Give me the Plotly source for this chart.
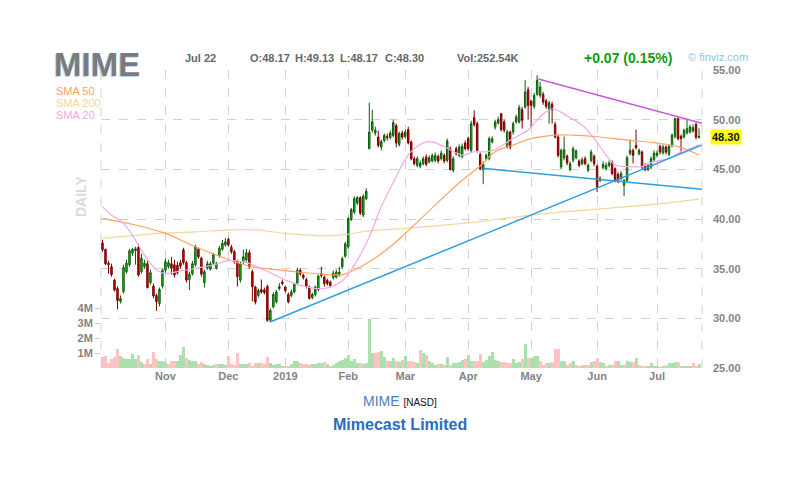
import plotly.graph_objects as go

# MIME daily candles, 3 Oct 2018 .. 22 Jul 2019 (index 0..199)
opens = [37.6, 36.95, 35.55, 35.2, 33.85, 33.0, 31.7, 32.7, 34.7, 35.4,
         36.55, 36.8, 37.15, 34.7, 35.2, 35.5, 33.6, 33.25, 32.3, 31.5,
         33.25, 34.85, 35.2, 35.5, 35.4, 35.35, 35.6, 36.9, 35.6, 33.9,
         34.5, 35.4, 36.95, 36.05, 33.6, 35.05, 34.95, 35.55, 35.05, 36.3,
         36.95, 37.4, 37.95, 37.15, 36.7, 35.7, 33.85, 35.7, 35.9, 36.6,
         34.7, 33.15, 32.3, 32.9, 32.85, 33.2, 29.8, 31.15, 31.65, 33.0,
         33.65, 33.15, 32.4, 32.3, 32.65, 33.55, 34.85, 34.35, 33.9, 33.15,
         32.1, 32.4, 32.9, 34.5, 34.15, 33.8, 33.65, 34.1, 34.15, 34.4,
         35.2, 36.25, 37.2, 39.95, 40.7, 41.6, 42.15, 40.4, 42.05, 47.1,
         48.95, 48.65, 48.25, 47.25, 47.9, 48.3, 48.2, 48.4, 49.4, 47.5,
         48.65, 48.3, 49.0, 47.75, 46.07, 45.4, 45.3, 45.57, 46.24, 45.74,
         45.84, 45.9, 46.3, 46.07, 46.4, 45.9, 47.08, 44.9, 47.08, 46.4,
         46.3, 47.65, 48.1, 46.9, 50.2, 49.6, 46.5, 44.97, 46.07, 46.07,
         47.75, 49.26, 49.66, 50.6, 49.77, 47.25, 48.76, 48.76, 49.77, 49.77,
         51.0, 51.28, 53.0, 51.88, 51.34, 52.55, 52.45, 52.55, 51.88, 51.0,
         51.54, 49.53, 48.26, 45.24, 46.17, 46.31, 44.97, 45.91, 46.17, 45.84,
         45.57, 46.07, 44.9, 45.9, 46.31, 45.3, 43.89, 45.17, 45.07, 45.4,
         45.74, 45.07, 44.5, 44.06, 43.39, 43.89, 46.58, 46.91, 47.42, 46.58,
         46.74, 45.4, 44.97, 45.24, 45.97, 46.41, 47.32, 46.64, 47.25, 46.51,
         47.42, 48.32, 50.1, 48.32, 48.26, 48.66, 48.76, 48.86, 49.53, 48.17]
highs = [37.9, 37.0, 35.8, 35.5, 34.0, 33.2, 32.3, 35.4, 35.9, 37.0,
         37.1, 37.2, 37.5, 36.5, 35.9, 35.8, 34.9, 33.5, 32.5, 33.1,
         35.0, 36.0, 35.9, 36.2, 35.9, 35.7, 35.9, 37.1, 35.8, 34.7,
         35.8, 37.4, 37.1, 36.2, 34.9, 35.8, 35.7, 36.6, 35.7, 37.3,
         37.9, 38.1, 38.1, 37.4, 36.9, 35.9, 35.7, 36.9, 37.0, 36.9,
         34.9, 33.3, 33.0, 33.9, 33.1, 33.4, 31.0, 32.6, 32.85, 33.55,
         33.9, 33.3, 32.6, 32.9, 33.6, 35.1, 35.0, 34.5, 34.1, 33.3,
         32.6, 33.3, 34.4, 35.2, 34.3, 34.0, 33.8, 34.8, 34.9, 35.2,
         36.2, 37.7, 40.2, 41.1, 42.3, 42.3, 42.3, 42.5, 43.1, 51.7,
         51.0, 49.3, 48.9, 48.0, 48.6, 48.6, 48.9, 50.0, 49.6, 48.8,
         48.9, 49.0, 49.3, 47.9, 46.3, 46.3, 45.9, 46.3, 46.5, 46.4,
         46.6, 46.7, 46.5, 46.9, 46.6, 48.1, 47.3, 46.3, 47.3, 47.5,
         47.6, 47.9, 48.3, 49.9, 50.94, 49.8, 46.7, 45.8, 46.6, 48.3,
         48.3, 50.0, 50.3, 50.67, 50.0, 49.0, 48.9, 49.8, 50.5, 51.5,
         51.3, 54.0, 53.3, 52.0, 52.7, 54.47, 53.8, 52.8, 52.1, 51.9,
         51.8, 49.8, 48.5, 47.1, 48.3, 46.5, 45.8, 47.3, 47.0, 46.0,
         46.2, 46.3, 45.6, 47.0, 46.5, 45.5, 44.3, 45.8, 45.7, 45.9,
         45.9, 45.2, 44.7, 44.8, 44.0, 46.4, 48.0, 47.1, 49.0, 47.1,
         46.9, 45.6, 45.6, 46.3, 46.9, 46.9, 47.5, 47.5, 47.4, 47.5,
         48.6, 50.2, 50.2, 48.5, 49.1, 50.1, 49.5, 49.5, 49.7, 49.13]
lows = [36.7, 35.35, 34.5, 34.2, 32.7, 30.9, 31.5, 32.5, 34.5, 35.2,
        36.3, 35.4, 34.2, 34.5, 35.0, 33.0, 33.4, 32.0, 30.75, 31.2,
        33.0, 34.6, 35.0, 34.4, 34.1, 34.4, 35.0, 35.4, 33.6, 32.85,
        34.3, 35.2, 36.0, 34.2, 33.1, 34.9, 34.8, 35.4, 34.9, 36.1,
        36.8, 37.2, 37.2, 36.5, 35.5, 33.2, 33.6, 35.5, 35.7, 35.0,
        31.7, 31.4, 32.1, 32.5, 32.4, 29.65, 29.6, 31.0, 31.5, 32.8,
        33.3, 32.6, 31.5, 32.1, 32.5, 33.4, 34.3, 33.9, 33.0, 31.9,
        31.9, 32.2, 32.7, 34.1, 33.2, 33.3, 33.1, 33.9, 34.0, 34.2,
        35.0, 36.1, 37.0, 39.8, 40.5, 41.4, 40.4, 40.2, 41.9, 47.0,
        48.7, 48.4, 47.2, 46.9, 47.7, 47.9, 48.0, 48.2, 47.2, 47.3,
        48.0, 48.1, 47.5, 45.9, 45.4, 45.2, 45.1, 45.4, 45.3, 45.6,
        45.7, 45.7, 45.6, 45.9, 45.6, 45.7, 44.9, 44.7, 46.4, 46.2,
        46.1, 46.9, 46.9, 46.7, 49.3, 46.7, 44.9, 43.5, 45.9, 45.9,
        47.6, 49.0, 49.5, 48.8, 48.7, 47.1, 47.0, 48.5, 49.6, 49.6,
        49.1, 51.1, 50.0, 49.2, 51.1, 52.4, 52.2, 51.5, 51.1, 49.6,
        49.6, 48.1, 46.2, 45.0, 45.9, 45.4, 44.8, 45.7, 46.0, 45.2,
        45.4, 45.4, 44.7, 45.7, 45.3, 42.7, 43.7, 45.0, 44.9, 45.2,
        44.4, 43.7, 43.6, 43.9, 42.3, 43.7, 46.4, 45.6, 47.0, 46.4,
        45.0, 44.8, 44.8, 45.0, 45.8, 46.2, 46.5, 46.5, 46.5, 46.3,
        47.2, 48.1, 47.9, 46.6, 48.1, 48.5, 48.6, 48.7, 48.0, 48.17]
closes = [36.9, 35.5, 35.4, 34.4, 32.85, 31.8, 32.0, 35.1, 35.55, 36.8,
          36.95, 37.0, 34.35, 36.05, 35.55, 33.1, 34.6, 32.25, 31.7, 32.9,
          34.85, 35.7, 35.6, 35.05, 34.35, 34.6, 35.25, 35.6, 33.85, 34.45,
          35.5, 37.2, 36.2, 34.45, 34.7, 35.5, 35.5, 36.4, 35.5, 37.05,
          37.55, 37.7, 37.4, 36.7, 35.7, 34.2, 35.5, 36.2, 36.6, 35.2,
          33.2, 31.65, 32.8, 32.65, 32.6, 29.8, 30.8, 32.4, 32.65, 33.2,
          33.5, 32.8, 31.65, 32.65, 33.4, 34.85, 34.5, 34.1, 33.2, 32.0,
          32.4, 33.15, 34.25, 34.3, 33.5, 33.5, 33.3, 34.55, 34.65, 34.65,
          36.0, 37.5, 40.05, 40.95, 42.05, 42.15, 40.6, 42.3, 42.8, 48.75,
          49.8, 48.95, 47.4, 47.8, 48.4, 48.2, 48.65, 49.7, 47.65, 48.6,
          48.25, 48.75, 47.65, 46.07, 45.57, 46.07, 45.64, 46.07, 45.5, 46.17,
          46.4, 46.4, 45.84, 46.64, 45.84, 47.85, 44.97, 46.07, 46.57, 47.25,
          47.3, 47.08, 47.08, 49.6, 49.53, 46.91, 45.07, 45.5, 46.41, 48.09,
          48.09, 49.77, 50.0, 49.0, 48.93, 48.76, 47.25, 49.6, 50.27, 51.21,
          49.93, 52.79, 51.44, 51.44, 52.45, 53.96, 53.29, 51.78, 51.34, 51.68,
          51.0, 48.26, 46.41, 46.91, 46.98, 45.64, 45.57, 47.08, 46.85, 45.4,
          45.97, 45.57, 45.4, 46.74, 45.57, 43.22, 44.06, 45.5, 45.4, 45.64,
          44.56, 43.89, 43.89, 44.56, 43.89, 46.17, 46.91, 46.41, 47.18, 46.91,
          45.24, 44.97, 45.4, 46.07, 46.64, 46.64, 46.74, 47.25, 46.74, 47.32,
          48.42, 50.1, 48.09, 48.09, 48.93, 49.09, 49.26, 49.2, 48.23, 48.30]
# volume, millions of shares
volumes = [0.75, 0.8, 0.35, 0.62, 0.75, 1.27, 0.8, 0.67, 0.58, 0.58,
           0.93, 0.6, 0.9, 0.4, 0.3, 0.6, 0.3, 1.1, 0.6, 0.45,
           0.45, 0.4, 0.3, 0.45, 0.5, 0.45, 0.85, 1.4, 0.7, 0.55,
           0.5, 0.45, 0.25, 0.4, 0.25, 0.2, 0.15, 0.2, 0.25, 0.3,
           0.3, 0.2, 0.8, 0.3, 0.2, 1.0, 0.25, 0.3, 0.3, 0.35,
           0.15, 0.35, 0.35, 0.35, 0.3, 0.75, 0.35, 0.2, 0.25, 0.25,
           0.15, 0.1, 0.1, 0.3, 0.47, 0.47, 0.35, 0.3, 0.3, 0.2,
           0.3, 0.3, 0.35, 0.35, 0.4, 0.3, 0.15, 0.2, 0.35, 0.45,
           0.55, 0.65, 0.85, 0.5, 0.6, 0.35, 0.35, 0.3, 0.35, 3.3,
           1.0, 1.0, 1.1, 1.15, 0.75, 0.5, 0.5, 0.65, 0.5, 0.4,
           0.55, 0.8, 0.5, 0.45, 0.4, 0.35, 1.2, 1.0, 0.87, 0.5,
           0.35, 0.2, 0.3, 0.3, 0.2, 0.75, 0.2, 0.36, 0.31, 0.4,
           0.53, 0.58, 0.87, 0.49, 0.49, 0.5, 0.93, 0.42, 0.53, 0.8,
           1.1, 0.53, 0.49, 0.42, 0.42, 0.36, 0.36, 0.58, 0.36, 0.4,
           0.58, 1.6, 0.7, 0.64, 0.8, 0.8, 0.49, 0.2, 0.31, 0.31,
           0.4, 1.27, 1.27, 0.49, 0.49, 0.2, 0.36, 0.49, 0.2, 0.16,
           0.2, 0.2, 0.2, 0.42, 0.5, 0.7, 0.38, 0.31, 0.09, 0.2,
           0.2, 0.49, 0.49, 0.2, 0.2, 0.49, 0.42, 0.42, 0.64, 0.18,
           0.16, 0.16, 0.16, 0.31, 0.09, 0.09, 0.05, 0.13, 0.2, 0.31,
           0.36, 0.4, 0.42, 0.13, 0.13, 0.13, 0.13, 0.31, 0.13, 0.25]

month_ticks = [21, 42, 61, 82, 101, 122, 143, 165, 185]
month_labels = ["Nov", "Dec", "2019", "Feb", "Mar", "Apr", "May", "Jun", "Jul"]
price_ticks = [25, 30, 35, 40, 45, 50, 55]
vol_ticks = [1, 2, 3, 4]
vol_labels = ["1M", "2M", "3M", "4M"]

# moving averages, sampled along the drawn curves
sma50_x = [0, 11, 21, 31, 38, 44, 51, 54, 64, 73, 80, 84, 90, 96, 101, 113, 120,
           126, 131, 137, 142, 151, 157, 165, 175, 184, 192, 199]
sma50_y = [40.07, 39.4, 38.55, 37.2, 36.37, 35.7, 35.13, 35.03, 34.7, 34.46, 34.4,
           34.86, 35.87, 37.2, 38.55, 41.98, 43.9, 45.33, 46.77, 47.45, 48.02, 48.45,
           48.45, 48.28, 47.95, 47.68, 47.28, 46.44]
sma200_x = [0, 9, 21, 31, 42, 51, 61, 74, 80, 89, 101, 122, 143, 165, 185, 199]
sma200_y = [38.05, 38.3, 38.6, 38.7, 38.9, 38.9, 38.55, 38.3, 38.4, 38.8, 39.05,
            39.6, 40.4, 41.0, 41.5, 42.0]
sma20_x = [0, 3, 7, 11, 14, 18, 21, 25, 31, 37, 42, 47, 54, 61, 68, 74, 80, 84, 89,
           93, 98, 101, 104, 109, 114, 120, 124, 128, 131, 137, 142, 146, 150, 155,
           160, 164, 168, 171, 175, 180, 184, 189, 193, 197, 199]
sma20_y = [41.24, 40.4, 39.56, 37.88, 36.37, 34.86, 34.5, 34.7, 35.03, 35.37, 35.8,
           35.7, 34.86, 33.85, 33.18, 33.0, 33.78, 35.36, 38.2, 41.24, 44.26, 46.0,
           47.1, 47.78, 47.27, 46.44, 46.77, 46.77, 47.0, 48.12, 48.96, 50.3, 51.1,
           50.37, 49.46, 48.12, 46.44, 45.43, 45.27, 45.3, 45.77, 46.1, 46.78, 47.2,
           47.5]

# trend lines (end points)
top_line_x, top_line_y = [145.4, 200], [54.09, 49.63]
rise_line_x, rise_line_y = [56.1, 200], [29.65, 47.45]
flat_line_x, flat_line_y = [126.9, 200], [45.1, 42.99]

# the page puts the figure 8px in from the top-left corner
OFF = 8
W, H = 797 - OFF, 487 - OFF
L, R, T, B = 101 - OFF, 95, 70 - OFF, 119
FONT = "Arial, 'Liberation Sans', sans-serif"


def fx(px):
    return (px - OFF - L) / (W - L - R)


def fy(py):
    return (H - B - (py - OFF)) / (H - T - B)


idx = list(range(len(closes)))
vol_colors = []
for i, c in enumerate(closes):
    prev = closes[i - 1] if i > 0 else opens[0]
    vol_colors.append("#ade0ad" if c >= prev else "#ffc2c2")

fig = go.Figure()
fig.add_trace(go.Bar(x=idx, y=volumes, width=1.0, marker_color=vol_colors,
                     marker_line_width=0, yaxis="y", hoverinfo="skip"))
fig.add_trace(go.Scatter(x=sma200_x, y=sma200_y, mode="lines", yaxis="y2",
                         line=dict(color="#f3d79c", width=1.2, shape="spline")))
fig.add_trace(go.Scatter(x=sma50_x, y=sma50_y, mode="lines", yaxis="y2",
                         line=dict(color="#ffa262", width=1.2, shape="spline")))
fig.add_trace(go.Scatter(x=sma20_x, y=sma20_y, mode="lines", yaxis="y2",
                         line=dict(color="#f2a9e4", width=1.2, shape="spline")))
fig.add_trace(go.Candlestick(
    x=idx, open=opens, high=highs, low=lows, close=closes, yaxis="y2",
    whiskerwidth=0, hoverinfo="skip",
    increasing=dict(fillcolor="#19c419", line=dict(color="#0b5c0b", width=1)),
    decreasing=dict(fillcolor="#d60000", line=dict(color="#7a0000", width=1)),
))
fig.add_trace(go.Scatter(x=top_line_x, y=top_line_y, mode="lines", yaxis="y2",
                         line=dict(color="#c45ad8", width=1.5)))
fig.add_trace(go.Scatter(x=rise_line_x, y=rise_line_y, mode="lines", yaxis="y2",
                         line=dict(color="#2b9fe2", width=1.5)))
fig.add_trace(go.Scatter(x=flat_line_x, y=flat_line_y, mode="lines", yaxis="y2",
                         line=dict(color="#2b9fe2", width=1.5)))

grid = dict(showgrid=True, gridcolor="#d2d2d2", griddash="dash", gridwidth=1,
            zeroline=False)
lab = dict(family=FONT, size=11, color="#848484", weight="bold")

fig.update_layout(
    width=W, height=H, margin=dict(l=L, r=R, t=T, b=B),
    paper_bgcolor="white", plot_bgcolor="white", showlegend=False,
    bargap=0,
    xaxis=dict(range=[-0.5, 200], tickvals=month_ticks, ticktext=month_labels,
               tickfont=lab, rangeslider=dict(visible=False), ticks="",
               **grid),
    yaxis=dict(range=[0, 19.87], side="left", tickvals=vol_ticks,
               ticktext=vol_labels, tickfont=lab, showgrid=False, zeroline=False,
               ticks="outside", ticklen=5, tickcolor="#c8c8c8"),
    yaxis2=dict(range=[25, 55], side="right", overlaying="y", tickvals=price_ticks,
                tickformat=".2f", tickfont=lab, ticks="", ticklabelstandoff=10,
                **grid),
)

edge = dict(color="#d2d2d2", width=1, dash="dash")
fig.add_shape(type="line", xref="paper", yref="paper", x0=0, x1=0, y0=0, y1=1, line=edge)
fig.add_shape(type="line", xref="paper", yref="paper", x0=1, x1=1, y0=0, y1=1, line=edge)


def note(text, px, py, size=11, color="#666666", bold=True, anchor="left", **kw):
    fig.add_annotation(text=text, x=fx(px), y=fy(py), xref="paper", yref="paper",
                       xanchor=anchor, yanchor="middle", showarrow=False,
                       font=dict(family=FONT, size=size, color=color,
                                 weight="bold" if bold else "normal",
                                 shadow=kw.pop("shadow", "none")), **kw)


# ticker with a faint blue edge
note("MIME", 52, 65, size=33, color="#7b7b7b", shadow="-1px 1px 1px #b4d4f2")
note("Jul 22", 183, 58)
note("O:48.17", 248, 58)
note("H:49.13", 293, 58)
note("L:48.17", 338, 58)
note("C:48.30", 383, 58)
note("Vol:252.54K", 455, 58)
note("+0.07 (0.15%)", 582, 58, size=14, color="#119a11")
note("© finviz.com", 686, 57, size=11, color="#93c3ea", bold=False)
note("SMA 50", 54, 91, color="#ffa262", bold=False)
note("SMA 200", 54, 103, color="#f3d79c", bold=False)
note("SMA 20", 54, 115, color="#f2a9e4", bold=False)
note("DAILY", 81, 197, size=14, color="#dadada", anchor="center", textangle=-90)
note("MIME <span style='font-size:10px;color:#111111;font-weight:normal'>[NASD]</span>",
     400, 401, size=14, color="#4f7fc2", bold=False, anchor="center")
note("Mimecast Limited", 400, 424, size=16, color="#2b6cc0", anchor="center")

fig.add_annotation(text="48.30", x=1, y=closes[-1], xref="paper", yref="y2",
                   xanchor="left", yanchor="middle", xshift=8, showarrow=False,
                   bgcolor="#ffff00", borderpad=1,
                   font=dict(family=FONT, size=11, color="#111111", weight="bold"))

fig.write_html("out.html")
